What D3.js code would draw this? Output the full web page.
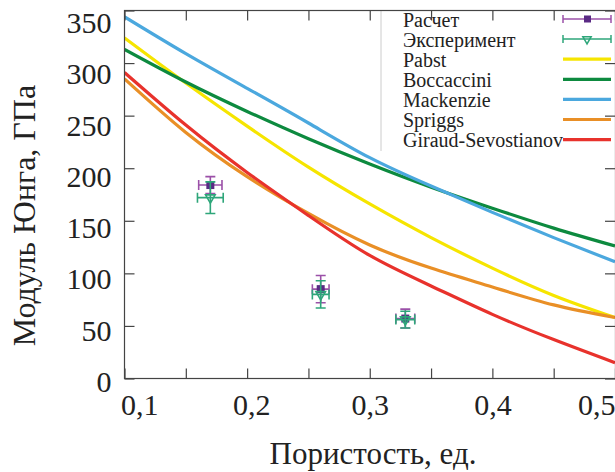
<!DOCTYPE html>
<html>
<head>
<meta charset="utf-8">
<script src="https://cdn.jsdelivr.net/npm/d3@7"></script>
<style>
	body { margin: 0; background: #fff; }
	svg text { fill: #222; }
</style>
</head>
<body>
<div id="chart"></div>
<script>
// porosity grid the model curves were read on
const porosity = [0.10, 0.15, 0.20, 0.25, 0.30, 0.35, 0.40, 0.45, 0.50];
const pabst = [324, 281, 240, 201, 166, 134, 105, 79, 58];
const boccaccini = [313, 282, 254, 228, 204, 182, 162, 143, 126];
const mackenzie = [344, 309, 276, 243, 210, 183, 158, 134, 111];
const spriggs = [285, 234, 192, 157, 127, 105, 87, 70, 58];
const giraud = [291, 241, 196, 155, 117, 88, 61, 37, 15];

// points with error bars
const calcP = [0.170, 0.260, 0.329];
const calcPErr = [0.0095, 0.0068, 0.0077];
const calcE = [184, 85, 57];
const calcEErr = [8, 13, 9];
const expP = [0.170, 0.260, 0.329];
const expPErr = [0.0105, 0.0068, 0.0077];
const expE = [172, 80, 56];
const expEErr = [15, 13, 8];

const xTicks = [0.1, 0.15, 0.2, 0.25, 0.3, 0.35, 0.4, 0.45, 0.5];
const yTicks = [0, 50, 100, 150, 200, 250, 300, 350];

const curves = [
	{name: "Pabst", values: pabst, color: "#f6e500"},
	{name: "Boccaccini", values: boccaccini, color: "#0d8a3f"},
	{name: "Mackenzie", values: mackenzie, color: "#4ba8de"},
	{name: "Spriggs", values: spriggs, color: "#e98f26"},
	{name: "Giraud-Sevostianov", values: giraud, color: "#e8322c"}
];

const width = 615, height = 472;
const box = {left: 124.5, right: 615.5, top: 10.5, bottom: 378.5};

// pick a serif face if the machine has one
function pickFont(list) {
	const ctx = document.createElement("canvas").getContext("2d");
	const sample = "Модуль Юнга 0123 Giraud";
	ctx.font = "40px monospace";
	const base = ctx.measureText(sample).width;
	for (const f of list) {
		ctx.font = "40px '" + f + "', monospace";
		if (Math.abs(ctx.measureText(sample).width - base) > 0.5) return "'" + f + "', serif";
	}
	return "serif";
}
const serif = pickFont(["Liberation Serif", "DejaVu Serif", "Noto Serif", "Times New Roman", "Tinos", "FreeSerif", "Times"]);

const svg = d3.select("#chart").append("svg")
	.attr("width", width)
	.attr("height", height)
	.attr("font-family", serif);

const x = d3.scaleLinear().domain([0.1, 0.5]).range([box.left, box.right - 0.5]);
const y = d3.scaleLinear().domain([0, 350]).range([box.bottom, box.top]);
// tick label baselines sit a little apart from the ticks in the original
const yLab = d3.scaleLinear().domain([0, 350]).range([391.5, 32.5]);

svg.append("clipPath").attr("id", "clip")
	.append("rect").attr("x", box.left).attr("y", box.top)
	.attr("width", box.right - box.left).attr("height", box.bottom - box.top);

// model curves
const line = d3.line()
	.x((d, i) => x(porosity[i]))
	.y(d => y(d))
	.curve(d3.curveNatural);

const plot = svg.append("g").attr("clip-path", "url(#clip)");

// error bars, calc first then experiment on top
function errorBars(g, ps, pe, es, ee, lineColor) {
	ps.forEach((p, i) => {
		const cx = x(p), cy = y(es[i]);
		const x0 = x(p - pe[i]), x1 = x(p + pe[i]);
		const y0 = y(es[i] - ee[i]), y1 = y(es[i] + ee[i]);
		const segs = [
			[x0, cy, x1, cy], [x0, cy - 5, x0, cy + 5], [x1, cy - 5, x1, cy + 5],
			[cx, y0, cx, y1], [cx - 5, y0, cx + 5, y0], [cx - 5, y1, cx + 5, y1]
		];
		segs.forEach(s => {
			g.append("line")
				.attr("x1", s[0]).attr("y1", s[1]).attr("x2", s[2]).attr("y2", s[3])
				.attr("stroke", lineColor).attr("stroke-width", 1.6);
		});
	});
}

const calcG = plot.append("g");
errorBars(calcG, calcP, calcPErr, calcE, calcEErr, "#9b50a8");
calcG.selectAll("rect").data(calcP).join("rect")
	.attr("x", (d, i) => x(d) - 4)
	.attr("y", (d, i) => y(calcE[i]) - 4)
	.attr("width", 8).attr("height", 8)
	.attr("fill", "#5a2a84");

const expG = plot.append("g");
errorBars(expG, expP, expPErr, expE, expEErr, "#2ea67a");
const tri = d3.symbol().type(d3.symbolTriangle).size(40);
expG.selectAll("path").data(expP).join("path")
	.attr("d", tri)
	.attr("transform", (d, i) => "translate(" + x(d) + "," + y(expE[i]) + ") rotate(180)")
	.attr("fill", "none")
	.attr("stroke", "#2ea67a")
	.attr("stroke-width", 1.6);

curves.forEach(c => {
	plot.append("path")
		.datum(c.values)
		.attr("fill", "none")
		.attr("stroke", c.color)
		.attr("stroke-width", 3.2)
		.attr("d", line);
});

// legend
const legend = svg.append("g");
legend.append("rect")
	.attr("x", 381).attr("y", box.top).attr("width", 240).attr("height", 141)
	.attr("fill", "#fff");
legend.append("line")
	.attr("x1", 381).attr("x2", 381).attr("y1", box.top).attr("y2", 151)
	.attr("stroke", "#ccc").attr("stroke-width", 1);

const legendItems = ["Расчет", "Эксперимент"].concat(curves.map(c => c.name));
legendItems.forEach((name, i) => {
	const ly = 19 + i * 20.1;
	legend.append("text")
		.attr("x", 403).attr("y", ly + 7.5)
		.attr("font-size", 20)
		.text(name);
	if (i < 2) {
		const col = i == 0 ? "#9b50a8" : "#2ea67a";
		[[563, ly, 611, ly], [563, ly - 4, 563, ly + 4], [611, ly - 4, 611, ly + 4]].forEach(s => {
			legend.append("line")
				.attr("x1", s[0]).attr("y1", s[1]).attr("x2", s[2]).attr("y2", s[3])
				.attr("stroke", col).attr("stroke-width", 1.5);
		});
		if (i == 0) {
			legend.append("rect").attr("x", 584).attr("y", ly - 3.5).attr("width", 7).attr("height", 7).attr("fill", "#5a2a84");
		} else {
			legend.append("path").attr("d", d3.symbol().type(d3.symbolTriangle).size(30))
				.attr("transform", "translate(587," + ly + ") rotate(180)")
				.attr("fill", "none").attr("stroke", col).attr("stroke-width", 1.5);
		}
	} else {
		legend.append("line")
			.attr("x1", 563).attr("x2", 611).attr("y1", ly).attr("y2", ly)
			.attr("stroke", curves[i - 2].color).attr("stroke-width", 3.2);
	}
});

// axes, ticks pointing inwards
const fmt = d => d3.format(".1f")(d).replace(".", ",");
const labelled = d => Math.abs(d * 10 - Math.round(d * 10)) < 1e-6;

const xAxis = svg.append("g")
	.attr("transform", "translate(0," + box.bottom + ")")
	.call(d3.axisBottom(x).tickValues(xTicks).tickSize(-10).tickPadding(0)
		.tickFormat(d => labelled(d) ? fmt(d) : ""));
xAxis.selectAll("text")
	.attr("font-size", 30)
	.attr("y", 36.5)
	.attr("dy", null)
	.attr("text-anchor", d => d == 0.1 ? "start" : (d == 0.5 ? "end" : "middle"))
	.attr("dx", d => d == 0.1 ? -4 : (d == 0.2 ? 4 : 0));

svg.append("g")
	.attr("transform", "translate(0," + box.top + ")")
	.call(d3.axisTop(x).tickValues(xTicks).tickSize(-10).tickFormat(""));

const yAxis = svg.append("g")
	.attr("transform", "translate(" + box.left + ",0)")
	.call(d3.axisLeft(y).tickValues(yTicks).tickSize(-10).tickPadding(13));
yAxis.selectAll("text")
	.attr("font-size", 30)
	.attr("dy", null)
	.attr("y", d => yLab(d) - y(d));

svg.append("g")
	.attr("transform", "translate(" + (box.right - 0.5) + ",0)")
	.call(d3.axisRight(y).tickValues(yTicks).tickSize(-10).tickFormat(""));

svg.selectAll(".domain").remove();
svg.selectAll("g").attr("font-family", serif);
svg.selectAll(".tick line").attr("stroke", "#444").attr("stroke-width", 1.2);
svg.selectAll(".tick text").attr("fill", "#222");

// frame
svg.append("rect")
	.attr("x", box.left).attr("y", box.top)
	.attr("width", box.right - box.left).attr("height", box.bottom - box.top)
	.attr("fill", "none").attr("stroke", "#444").attr("stroke-width", 1.2);

// axis titles
svg.append("text")
	.attr("x", 373).attr("y", 464)
	.attr("text-anchor", "middle")
	.attr("font-size", 31)
	.text("Пористость, ед.");

svg.append("text")
	.attr("transform", "translate(35,215.5) rotate(-90)")
	.attr("text-anchor", "middle")
	.attr("font-size", 32)
	.text("Модуль Юнга, ГПа");
</script>
</body>
</html>
